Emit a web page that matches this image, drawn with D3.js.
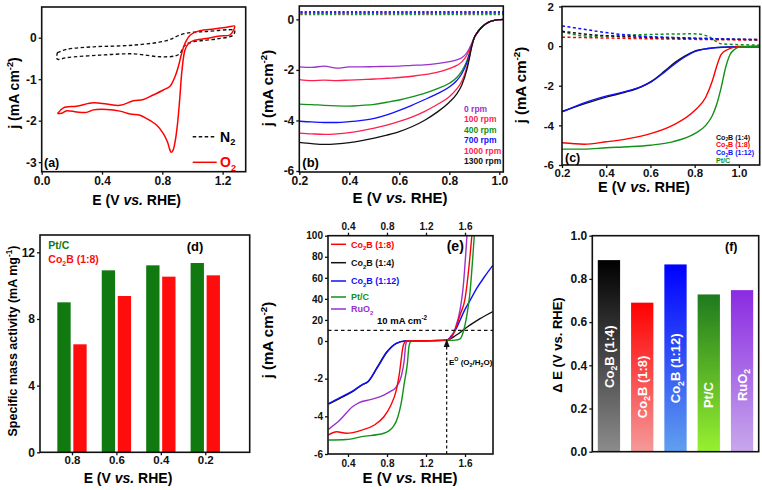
<!DOCTYPE html>
<html><head><meta charset="utf-8">
<script src="https://cdn.jsdelivr.net/npm/d3@7"></script>
<style>
body{margin:0;background:#fff}
svg{display:block;font-family:'Liberation Sans',Arial,sans-serif;font-weight:bold}
</style>
</head><body><svg id="chart" width="762" height="490"></svg>
<script>
// ---------- DATA ----------
// (a) CV in N2 / O2 (closed loops)
const aO2 = [[0.104,-1.83],[0.144,-1.69],[0.232,-1.65],[0.343,-1.57],[0.431,-1.60],[0.519,-1.63],[0.608,-1.52],[0.674,-1.49],[0.74,-1.38],[0.807,-1.26],[0.851,-1.17],[0.884,-0.94],[0.906,-0.70],[0.928,-0.38],[0.95,-0.14],[0.984,0.06],[1.05,0.17],[1.14,0.21],[1.227,0.25],[1.28,0.28],[1.275,0.2],[1.25,0.07],[1.18,0.04],[1.09,-0.02],[1.006,-0.07],[0.973,-0.14],[0.95,-0.3],[0.93,-0.8],[0.915,-1.5],[0.9,-2.1],[0.885,-2.5],[0.87,-2.72],[0.858,-2.76],[0.848,-2.68],[0.835,-2.52],[0.807,-2.31],[0.763,-2.11],[0.696,-1.95],[0.652,-1.87],[0.586,-1.84],[0.519,-1.77],[0.431,-1.73],[0.343,-1.74],[0.298,-1.8],[0.232,-1.79],[0.166,-1.76],[0.133,-1.82],[0.104,-1.83]];
const aN2 = [[0.104,-0.36],[0.166,-0.28],[0.343,-0.22],[0.608,-0.18],[0.829,-0.07],[0.928,0.08],[1.006,0.13],[1.094,0.15],[1.27,0.19],[1.28,0.17],[1.27,0.06],[1.16,-0.03],[1.006,-0.1],[0.95,-0.18],[0.917,-0.38],[0.884,-0.44],[0.785,-0.46],[0.608,-0.39],[0.387,-0.42],[0.166,-0.48],[0.104,-0.52],[0.1,-0.45],[0.104,-0.36]];
const aXTicks = [0, 0.4, 0.8, 1.2];
const aYTicks = [-3, -2, -1, 0];

// (b) LSV at rotation rates
const bE = [0.2,0.25,0.3,0.35,0.4,0.45,0.5,0.55,0.6,0.65,0.7,0.75,0.8,0.83,0.85,0.87,0.88,0.89,0.9,0.91,0.92,0.93,0.94,0.95,0.96,0.97,0.98,0.99,1.0,1.016];
const bTail = [-0.72,-0.55,-0.42,-0.31,-0.22,-0.15,-0.1,-0.06,-0.04,-0.02,-0.01,0];
const b0 = [-1.88,-1.9,-1.85,-1.93,-1.88,-1.88,-1.87,-1.86,-1.85,-1.82,-1.8,-1.75,-1.67,-1.6,-1.52,-1.32,-1.15,-0.95].concat(bTail);
const b100 = [-2.38,-2.42,-2.4,-2.42,-2.4,-2.38,-2.36,-2.33,-2.3,-2.25,-2.19,-2.1,-1.95,-1.82,-1.68,-1.42,-1.2,-0.97].concat(bTail);
const b400 = [-3.35,-3.37,-3.4,-3.42,-3.43,-3.4,-3.36,-3.28,-3.19,-3.07,-2.93,-2.75,-2.53,-2.3,-2.05,-1.65,-1.35,-1.0].concat(bTail);
const b700 = [-4.03,-4.06,-4.08,-4.08,-4.05,-4.0,-3.92,-3.78,-3.6,-3.4,-3.18,-2.95,-2.68,-2.42,-2.15,-1.72,-1.4,-1.02].concat(bTail);
const b1000 = [-4.5,-4.53,-4.55,-4.53,-4.48,-4.4,-4.3,-4.18,-4.04,-3.87,-3.65,-3.38,-3.06,-2.75,-2.45,-1.9,-1.5,-1.05].concat(bTail);
const b1300 = [-4.87,-4.92,-4.95,-4.93,-4.88,-4.8,-4.7,-4.58,-4.44,-4.25,-4.0,-3.68,-3.28,-2.95,-2.6,-2.0,-1.55,-1.07].concat(bTail);
const bLabels = ['0 rpm','100 rpm','400 rpm','700 rpm','1000 rpm','1300 rpm'];
const bColors = ['#9933cc','#ff1f4f','#12901a','#1010ff','#ff1f4f','#111111'];
const bBaseline = [0.30, 0.28, 0.25, 0.22, 0.20];
const bXTicks = [0.2,0.4,0.6,0.8,1.0];
const bYTicks = [-6,-4,-2,0];

// (c) LSV of catalysts
const c14 = [[0.2,-3.3],[0.257,-3.08],[0.333,-2.8],[0.408,-2.55],[0.484,-2.33],[0.559,-2.05],[0.604,-1.78],[0.665,-1.25],[0.71,-0.83],[0.755,-0.5],[0.8,-0.25],[0.86,-0.12],[0.936,-0.05],[1.01,-0.03],[1.094,-0.03]];
const c112 = [[0.2,-3.32],[0.257,-3.05],[0.333,-2.74],[0.408,-2.5],[0.484,-2.3],[0.559,-2.04],[0.604,-1.8],[0.665,-1.3],[0.71,-0.9],[0.755,-0.55],[0.8,-0.28],[0.86,-0.12],[0.936,-0.05],[1.01,-0.03],[1.094,-0.03]];
const c18 = [[0.2,-4.88],[0.3,-4.95],[0.4,-4.83],[0.5,-4.67],[0.6,-4.42],[0.7,-4.0],[0.8,-3.25],[0.85,-2.58],[0.88,-1.75],[0.9,-1.0],[0.92,-0.42],[0.95,-0.17],[0.98,-0.05],[1.0,-0.02],[1.094,0]];
const cPt = [[0.2,-5.2],[0.3,-5.2],[0.4,-5.13],[0.5,-5.08],[0.6,-5.0],[0.7,-4.83],[0.8,-4.42],[0.85,-4.0],[0.88,-3.5],[0.9,-2.92],[0.92,-2.08],[0.94,-1.08],[0.96,-0.42],[0.98,-0.17],[1.0,-0.05],[1.05,-0.02],[1.094,0]];
const cDBlue = [[0.2,1.02],[0.3,0.85],[0.408,0.67],[0.56,0.5],[0.7,0.44],[0.86,0.38],[1.094,0.33]];
const cDBlack = [[0.2,0.75],[0.33,0.58],[0.56,0.45],[0.86,0.38],[1.094,0.33]];
const cDGreen = [[0.2,0.72],[0.33,0.5],[0.56,0.58],[0.8,0.62],[0.86,0.5],[0.92,0.12],[1.094,0.05]];
const cDRed = [[0.2,0.45],[0.56,0.38],[1.094,0.3]];
const cXTicks = [0.2,0.4,0.6,0.8,1.0];
const cYTicks = [-6,-4,-2,0,2];

// (d) specific mass activity
const dCats = ['0.8','0.6','0.4','0.2'];
const dPtC = [9.0,10.92,11.22,11.36];
const dCo2B = [6.48,9.38,10.54,10.62];
const dYTicks = [0,4,8,12];

// (e) bifunctional LSV
const eRed = [[0.2,-4.99],[0.285,-4.82],[0.381,-4.9],[0.542,-4.73],[0.671,-4.46],[0.768,-4.02],[0.832,-3.49],[0.896,-2.6],[0.925,-1.8],[0.945,-1.0],[0.96,-0.4],[0.977,-0.1],[1.0,0],[1.2,0.3],[1.4,0.8],[1.43,1.5],[1.47,5],[1.5,11],[1.55,25],[1.6,40],[1.64,70],[1.67,100]];
const eBlack = [[0.2,-3.35],[0.317,-3.04],[0.446,-2.69],[0.542,-2.34],[0.607,-2.16],[0.703,-1.36],[0.799,-0.57],[0.896,-0.12],[0.99,0],[1.2,0.3],[1.4,0.8],[1.45,2],[1.5,5],[1.55,8],[1.58,10.5],[1.65,15],[1.75,21],[1.887,28]];
const eBlue = [[0.2,-3.33],[0.317,-3.0],[0.446,-2.66],[0.542,-2.33],[0.607,-2.14],[0.703,-1.4],[0.799,-0.6],[0.896,-0.12],[0.99,0],[1.2,0.3],[1.4,0.8],[1.42,1],[1.46,5],[1.5,10],[1.55,20],[1.6,30],[1.66,40],[1.72,50],[1.8,61],[1.887,72]];
const ePt = [[0.2,-5.26],[0.381,-5.23],[0.542,-5.08],[0.768,-4.9],[0.864,-4.55],[0.912,-4.02],[0.945,-3.31],[0.977,-2.25],[1.009,-1.19],[1.025,-0.3],[1.04,-0.05],[1.06,0],[1.3,0.3],[1.5,0.8],[1.55,2],[1.58,8],[1.62,25],[1.65,45],[1.68,80],[1.695,100]];
const eRuO2 = [[0.2,-4.69],[0.317,-4.2],[0.446,-3.49],[0.51,-3.28],[0.638,-3.1],[0.768,-2.87],[0.832,-2.69],[0.896,-2.43],[0.945,-1.9],[0.977,-1.01],[0.992,-0.21],[1.01,0],[1.2,0.3],[1.4,0.8],[1.44,1.5],[1.5,12],[1.55,30],[1.58,50],[1.62,100]];
const eE0 = 1.412;
const eRef = 10;
const eXTicks = [0.4,0.8,1.2,1.6];
const eYTicks = [-6,-4,-2,0,20,40,60,80,100];

// (f) delta E
const fCats = ['Co2B (1:4)','Co2B (1:8)','Co2B (1:12)','Pt/C','RuO2'];
const fVals = [0.887,0.69,0.867,0.728,0.748];
const fLabelPos = [0.44,0.30,0.386,0.262,0.309];
const fTop = ['#000000','#ff0000','#0000ff','#1e7a1e','#8a2be2'];
const fBottom = ['#8c8c8c','#f59a9a','#60a0ee','#98f030','#c8a8ec'];
const fYTicks = [0,0.2,0.4,0.6,0.8,1.0];

// ---------- HELPERS ----------
const svg = d3.select('#chart');
const defs = svg.append('defs');

function rich(p, x, y, parts, fs, opt) {
  opt = opt || {};
  const t = p.append('text').attr('x', x).attr('y', y).attr('font-size', fs)
    .attr('text-anchor', opt.anchor || 'start').attr('fill', opt.fill || '#000');
  if (opt.rot) t.attr('transform', `rotate(${opt.rot},${x},${y})`);
  let cur = 0;
  parts.forEach(pt => {
    let s = pt, k = null;
    if (Array.isArray(pt)) { s = pt[0]; k = pt[1]; }
    const sh = k === 'sub' ? 0.28 * fs : (k === 'sup' ? -0.4 * fs : 0);
    const ts = t.append('tspan').text(s).attr('dy', sh - cur);
    if (k === 'sub' || k === 'sup') ts.attr('font-size', fs * 0.66);
    if (k === 'it') ts.attr('font-style', 'italic');
    cur = sh;
  });
  return t;
}
const fmtNum = d => String(d);
const fmt1 = d => d.toFixed(1);

function frame(x0, y0, x1, y1) {
  svg.append('rect').attr('x', x0).attr('y', y0).attr('width', x1 - x0).attr('height', y1 - y0)
    .attr('fill', 'none').attr('stroke', '#111').attr('stroke-width', 1.6);
}
function axis(gen, tx, ty, fs) {
  const g = svg.append('g').attr('transform', `translate(${tx},${ty})`).call(gen);
  g.select('.domain').remove();
  g.selectAll('.tick line').attr('stroke', '#111').attr('stroke-width', 1.3);
  g.selectAll('.tick text').attr('font-size', fs).attr('font-family', "'Liberation Sans',Arial,sans-serif")
    .attr('font-weight', 'bold').attr('fill', '#111');
  return g;
}
const ETITLE = ['E (V ', ['vs.', 'it'], ' RHE)'];
const JTITLE = ['j (mA cm', ['-2', 'sup'], ')'];

// ---------- PANEL A ----------
{
  const x = d3.scaleLinear([0, 1.353], [41.7, 245.7]);
  const y = d3.scaleLinear([-3.23, 0.74], [171.7, 7]);
  const ln = d3.line().x(d => x(d[0])).y(d => y(d[1])).curve(d3.curveCatmullRom.alpha(0.5));
  svg.append('path').attr('d', ln(aN2)).attr('fill', 'none').attr('stroke', '#111').attr('stroke-width', 1.4).attr('stroke-dasharray', '3.5,2.5');
  svg.append('path').attr('d', ln(aO2)).attr('fill', 'none').attr('stroke', '#ff0000').attr('stroke-width', 1.5);
  frame(41.7, 7, 245.7, 171.7);
  axis(d3.axisBottom(x).tickValues(aXTicks).tickFormat(fmt1).tickSize(3).tickPadding(2), 0, 171.7, 12);
  axis(d3.axisLeft(y).tickValues(aYTicks).tickFormat(fmtNum).tickSize(3).tickPadding(2), 41.7, 0, 12);
  rich(svg, 136.7, 204.5, ETITLE, 14, {anchor: 'middle'});
  rich(svg, 19, 93, JTITLE, 14, {anchor: 'middle', rot: -90});
  svg.append('line').attr('x1', 192.7).attr('x2', 216.7).attr('y1', 136.7).attr('y2', 136.7).attr('stroke', '#111').attr('stroke-width', 1.4).attr('stroke-dasharray', '3.5,2.5');
  rich(svg, 220, 141.5, ['N', ['2', 'sub']], 14);
  svg.append('line').attr('x1', 192.7).attr('x2', 216.7).attr('y1', 162.3).attr('y2', 162.3).attr('stroke', '#ff0000').attr('stroke-width', 1.5);
  rich(svg, 220, 167, ['O', ['2', 'sub']], 14, {fill: '#ff0000'});
  rich(svg, 44, 167, ['(a)'], 12.5);
}

// ---------- PANEL B ----------
{
  const x = d3.scaleLinear([0.2, 1.016], [299.3, 503.3]);
  const y = d3.scaleLinear([-6.04, 0.53], [172, 6]);
  const ln = d3.line().x((d, i) => x(bE[i])).y(d => y(d)).curve(d3.curveMonotoneX);
  const series = [b0, b100, b400, b700, b1000, b1300];
  const dot = d3.line().x(d => x(d[0])).y(d => y(d[1]));
  const dcol = ['#111111', '#9933cc', '#1010ff', '#ff1f4f', '#12901a'];
  bBaseline.forEach((v, i) => {
    svg.append('path').attr('d', dot([[0.205, v], [1.016, v]])).attr('stroke', dcol[i]).attr('stroke-width', 1.6).attr('stroke-dasharray', '2,2.2').attr('fill', 'none');
  });
  series.forEach((s, i) => {
    svg.append('path').attr('d', ln(s)).attr('fill', 'none').attr('stroke', bColors[i]).attr('stroke-width', 1.3);
  });
  frame(299.3, 6, 503.3, 172);
  axis(d3.axisBottom(x).tickValues(bXTicks).tickFormat(fmt1).tickSize(3).tickPadding(1), 0, 172, 12);
  axis(d3.axisLeft(y).tickValues(bYTicks).tickFormat(fmtNum).tickSize(3).tickPadding(2), 299.3, 0, 12);
  rich(svg, 400, 202.5, ETITLE, 15, {anchor: 'middle'});
  rich(svg, 273, 88, JTITLE, 15, {anchor: 'middle', rot: -90});
  bLabels.forEach((t, i) => {
    rich(svg, 464, 112 + i * 10.4, [t], 8.5, {fill: bColors[i]});
  });
  rich(svg, 302.3, 167, ['(b)'], 13);
}

// ---------- PANEL C ----------
{
  const x = d3.scaleLinear([0.2, 1.094], [562, 759.7]);
  const y = d3.scaleLinear([-6, 2], [165, 6.5]);
  const ln = d3.line().x(d => x(d[0])).y(d => y(d[1])).curve(d3.curveMonotoneX);
  const dash = (data, col) => svg.append('path').attr('d', ln(data)).attr('fill', 'none').attr('stroke', col).attr('stroke-width', 1.5).attr('stroke-dasharray', '3,2.5');
  dash(cDRed, '#ff0000'); dash(cDGreen, '#12901a'); dash(cDBlack, '#111'); dash(cDBlue, '#1010ff');
  const solid = (data, col) => svg.append('path').attr('d', ln(data)).attr('fill', 'none').attr('stroke', col).attr('stroke-width', 1.4);
  solid(c14, '#111'); solid(c112, '#1010ff'); solid(c18, '#ff0000'); solid(cPt, '#12901a');
  frame(562, 6.5, 759.7, 165);
  axis(d3.axisBottom(x).tickValues(cXTicks).tickFormat(fmt1).tickSize(3).tickPadding(1), 0, 165, 11.5);
  axis(d3.axisLeft(y).tickValues(cYTicks).tickFormat(fmtNum).tickSize(3).tickPadding(5), 562, 0, 11.5);
  rich(svg, 644, 192, ETITLE, 14.5, {anchor: 'middle'});
  rich(svg, 526, 85, JTITLE, 15, {anchor: 'middle', rot: -90});
  const leg = [[['Co', ['2', 'sub'], 'B (1:4)'], '#111'], [['Co', ['2', 'sub'], 'B (1:8)'], '#ff0000'], [['Co', ['2', 'sub'], 'B (1:12)'], '#1010ff'], [['Pt/C'], '#12901a']];
  leg.forEach((l, i) => rich(svg, 716, 139.5 + i * 7.7, l[0], 7.1, {fill: l[1]}));
  rich(svg, 565, 161.5, ['(c)'], 12.5);
}

// ---------- PANEL D ----------
{
  const x = d3.scaleLinear([-0.72, 4.0], [40, 249.7]);
  const y = d3.scaleLinear([0, 13.04], [452.3, 235]);
  const idx = dCats.map((c, i) => i);
  svg.append('g').selectAll('rect.g').data(dPtC).join('rect')
    .attr('x', (d, i) => x(i - 0.33)).attr('width', x(0.3) - x(0))
    .attr('y', d => y(d)).attr('height', d => y(0) - y(d)).attr('fill', '#107a10');
  svg.append('g').selectAll('rect.r').data(dCo2B).join('rect')
    .attr('x', (d, i) => x(i + 0.03)).attr('width', x(0.3) - x(0))
    .attr('y', d => y(d)).attr('height', d => y(0) - y(d)).attr('fill', '#ff0d0d');
  frame(40, 235, 249.7, 452.3);
  axis(d3.axisBottom(x).tickValues(idx).tickFormat(i => dCats[i]).tickSize(3).tickPadding(1), 0, 452.3, 11.5);
  axis(d3.axisLeft(y).tickValues(dYTicks).tickFormat(fmtNum).tickSize(3).tickPadding(2), 40, 0, 12);
  rich(svg, 128, 482.5, ETITLE, 14, {anchor: 'middle'});
  rich(svg, 17, 341, ['Specific mass activity (mA mg', ['-1', 'sup'], ')'], 12.5, {anchor: 'middle', rot: -90});
  rich(svg, 48.3, 249, ['Pt/C'], 10.5, {fill: '#107a10'});
  rich(svg, 48.3, 263, ['Co', ['2', 'sub'], 'B (1:8)'], 10.5, {fill: '#ff0d0d'});
  rich(svg, 186.7, 250.7, ['(d)'], 13);
}

// ---------- PANEL E ----------
{
  const x = d3.scaleLinear([0.195, 1.887], [328, 493]);
  const y = d3.scaleLinear([-6, 0, 100], [454, 341, 235.7]);
  const ln = d3.line().x(d => x(d[0])).y(d => y(d[1])).curve(d3.curveMonotoneX);
  const clip = defs.append('clipPath').attr('id', 'clipE');
  clip.append('rect').attr('x', 328).attr('y', 235.7).attr('width', 165).attr('height', 218.3);
  const gE = svg.append('g').attr('clip-path', 'url(#clipE)');
  const curves = [[eBlack, '#111'], [eBlue, '#1010ff'], [eRuO2, '#9932cc'], [ePt, '#12901a'], [eRed, '#ff0000']];
  curves.forEach(c => gE.append('path').attr('d', ln(c[0])).attr('fill', 'none').attr('stroke', c[1]).attr('stroke-width', 1.4));
  // reference lines
  svg.append('line').attr('x1', 328).attr('x2', 493).attr('y1', y(eRef)).attr('y2', y(eRef)).attr('stroke', '#111').attr('stroke-width', 1.2).attr('stroke-dasharray', '3.5,3');
  svg.append('line').attr('x1', x(eE0)).attr('x2', x(eE0)).attr('y1', y(-6)).attr('y2', y(1.5)).attr('stroke', '#111').attr('stroke-width', 1.2).attr('stroke-dasharray', '3,2.5');
  const ax = x(eE0), ay = y(1.8);
  svg.append('path').attr('d', `M${ax},${ay}L${ax - 3},${ay + 8}L${ax + 3},${ay + 8}Z`).attr('fill', '#111');
  frame(328, 235.7, 493, 454);
  axis(d3.axisBottom(x).tickValues(eXTicks).tickFormat(fmt1).tickSize(3).tickPadding(3), 0, 454, 10);
  axis(d3.axisTop(x).tickValues(eXTicks).tickFormat(fmt1).tickSize(3).tickPadding(3), 0, 235.7, 10);
  axis(d3.axisLeft(y).tickValues(eYTicks).tickFormat(fmtNum).tickSize(3).tickPadding(2), 328, 0, 10);
  rich(svg, 410, 483, ETITLE, 15, {anchor: 'middle'});
  rich(svg, 273, 340, JTITLE, 15, {anchor: 'middle', rot: -90});
  const leg = [[['Co', ['2', 'sub'], 'B (1:8)'], '#ff0000', 244.3], [['Co', ['2', 'sub'], 'B (1:4)'], '#111', 262.7], [['Co', ['2', 'sub'], 'B (1:12)'], '#1010ff', 281], [['Pt/C'], '#12901a', 297], [['RuO', ['2', 'sub']], '#9932cc', 309]];
  leg.forEach(l => {
    svg.append('line').attr('x1', 331).attr('x2', 346).attr('y1', l[2]).attr('y2', l[2]).attr('stroke', l[1]).attr('stroke-width', 1.5);
    rich(svg, 351, l[2] + 3.3, l[0], 9, {fill: l[1]});
  });
  rich(svg, 377, 324, ['10 mA cm', ['-2', 'sup']], 9.5);
  rich(svg, 446.7, 250.7, ['(e)'], 14);
  rich(svg, 449, 364.5, ['E', ['O', 'sup'], ' (O', ['2', 'sub'], '/H', ['2', 'sub'], 'O)'], 8);
}

// ---------- PANEL F ----------
{
  const x = d3.scaleBand().domain(fCats).range([592.3, 758.7]).paddingInner(0.33).paddingOuter(0.165);
  const y = d3.scaleLinear([0, 1], [451.7, 235.7]);
  fCats.forEach((c, i) => {
    const gr = defs.append('linearGradient').attr('id', 'fg' + i).attr('x1', 0).attr('y1', 0).attr('x2', 0).attr('y2', 1);
    gr.append('stop').attr('offset', '0%').attr('stop-color', fTop[i]);
    gr.append('stop').attr('offset', '100%').attr('stop-color', fBottom[i]);
  });
  svg.append('g').selectAll('rect').data(fVals).join('rect')
    .attr('x', (d, i) => x(fCats[i])).attr('width', x.bandwidth())
    .attr('y', d => y(d)).attr('height', d => y(0) - y(d)).attr('fill', (d, i) => `url(#fg${i})`);
  const labs = [['Co', ['2', 'sub'], 'B (1:4)'], ['Co', ['2', 'sub'], 'B (1:8)'], ['Co', ['2', 'sub'], 'B (1:12)'], ['Pt/C'], ['RuO', ['2', 'sub']]];
  labs.forEach((l, i) => {
    const cx = x(fCats[i]) + x.bandwidth() / 2 + 4.6;
    rich(svg, cx, y(fLabelPos[i]), l, 13, {anchor: 'middle', rot: -90, fill: '#fff'});
  });
  frame(592.3, 235.7, 758.7, 451.7);
  axis(d3.axisLeft(y).tickValues(fYTicks).tickFormat(fmt1).tickSize(3).tickPadding(2), 592.3, 0, 12);
  rich(svg, 562, 345, ['\u0394 E (V vs. RHE)'], 13, {anchor: 'middle', rot: -90});
  rich(svg, 725, 251, ['(f)'], 12.5);
}
</script></body></html>
